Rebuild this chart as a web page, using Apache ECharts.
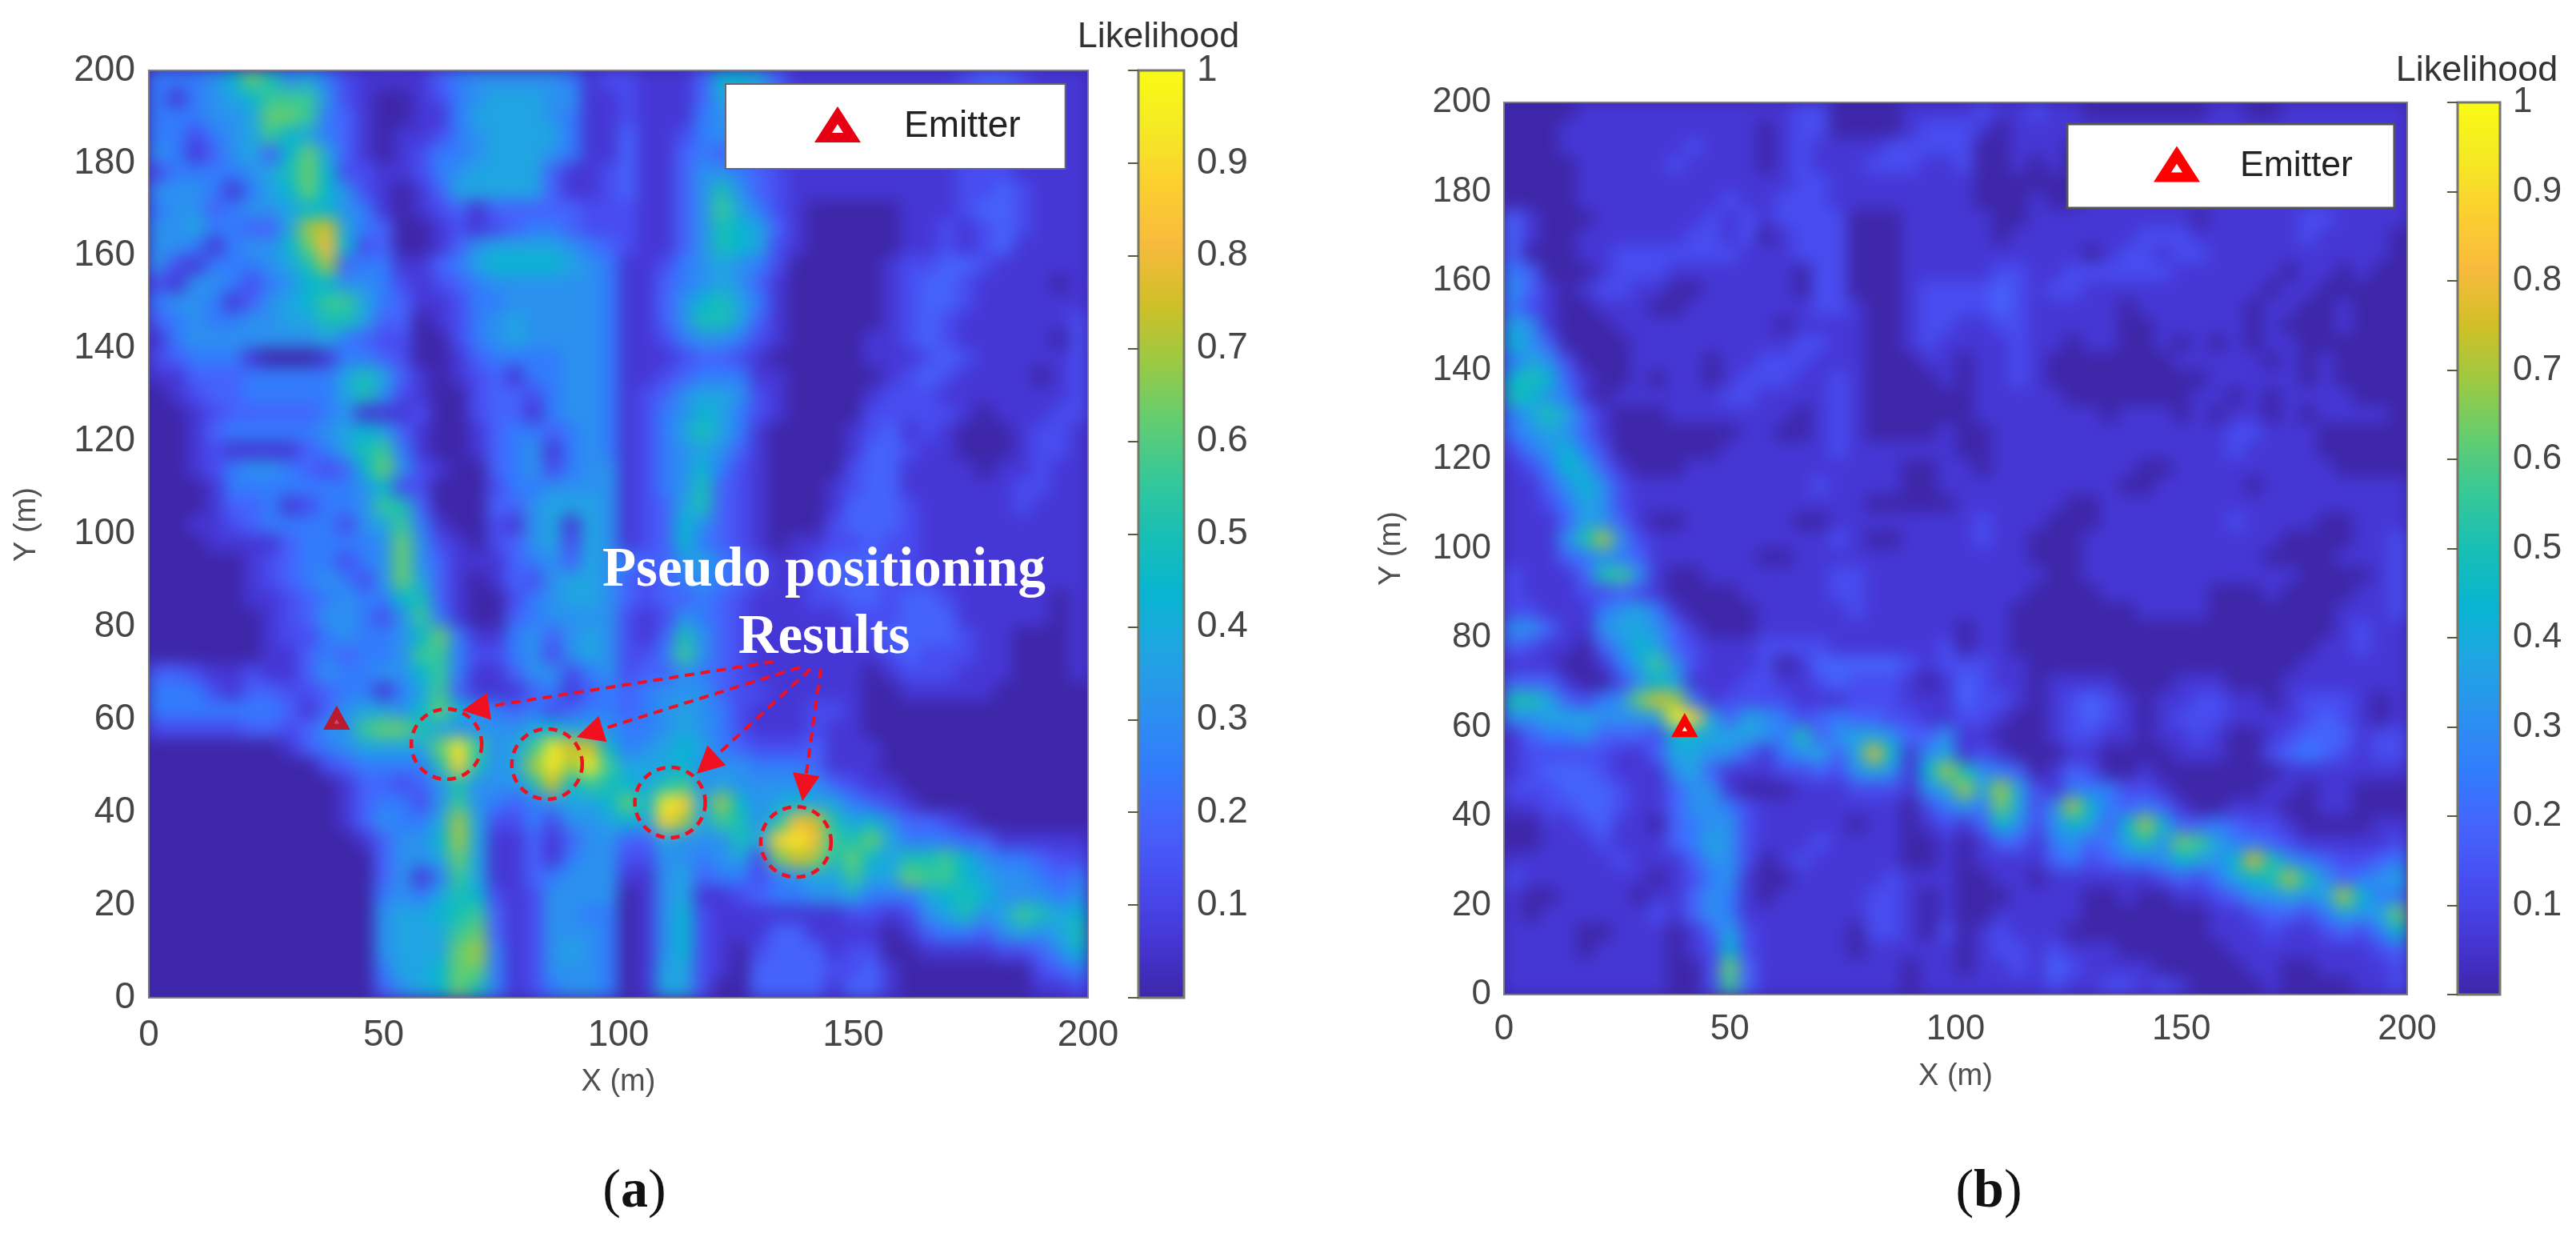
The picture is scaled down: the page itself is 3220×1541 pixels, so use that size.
<!DOCTYPE html>
<html><head><meta charset="utf-8">
<style>
html,body{margin:0;padding:0;background:#fff}
#chart{width:3220px;height:1541px}
#chart canvas:first-child{background:#3E26A8;filter:blur(10px);clip-path:path('M186 88H1360V1247H186Z M1880 128H3009V1243H1880Z')}
</style>
<script src="https://cdn.jsdelivr.net/npm/echarts@6/dist/echarts.min.js"></script>
</head><body><div id="chart"></div>
<script>
// Likelihood, in 1/16 steps (hex digit), row 0 = top (Y 196-200), column 0 = X 0-4
const likelihoodA = [
"4445 7a85 6421 1113 4555 5541 2 2111 3776 3111 1111 1123 3211 1",
"4145 6799 9521 0012 4566 6551 1 2111 3665 3111 1111 1122 2111 1",
"4445 56aa 9431 0011 4666 6541 1 2111 4553 2111 1111 1122 2111 1",
"4424 5697 6431 0112 4566 6641 1 3112 4543 2111 1111 1122 2111 1",
"5413 5637 a631 0124 4566 6541 1 3113 4332 1111 1111 1122 2111 1",
"2444 4568 a722 1124 5666 6311 2 3113 5543 2111 1111 1122 2111 1",
"5554 1467 a752 1013 6666 6311 2 3113 5853 2111 1111 1122 3211 1",
"4553 4556 7754 1012 3133 3332 2 2113 5964 2100 0001 1123 3211 1",
"5564 4336 bc64 3001 2123 4432 2 2113 5876 3100 0001 1212 3211 1",
"5541 4557 ad72 3001 3566 6654 3 2113 5876 2100 0001 1212 3111 1",
"5214 4456 8b34 4113 4677 7765 4 1124 5654 2000 0012 2332 1111 1",
"2155 4245 7755 4212 3455 5555 4 1134 5653 1000 0012 3321 1110 1",
"4554 1356 7996 4311 2445 5555 4 1135 7864 1000 0012 3321 1111 1",
"3454 4556 6886 3301 2456 5555 4 1135 8863 1000 0012 3211 1111 2",
"1455 5555 5643 2200 2456 5555 4 1124 5542 1000 0112 3211 1110 2",
"2344 4100 0144 3200 1344 4455 4 1112 3321 0000 0111 2321 1111 2",
"1133 3444 4468 6310 1231 4455 4 1123 4441 1000 0012 3211 1101 2",
"0123 3444 4468 5210 0233 2455 4 1235 6652 1000 0122 2111 1111 2",
"0012 3333 3451 1120 0233 1455 4 1245 7642 1000 0222 2210 1112 2",
"0013 4444 4567 6310 0134 4345 4 1246 8641 0000 1231 2100 0122 1",
"0012 1111 3468 9410 0134 5145 4 1245 6531 0000 1332 1100 0122 1",
"0012 4554 3237 a521 0034 5245 5 1245 7421 0000 2331 1110 1121 1",
"0001 4444 4445 7220 0024 4555 5 1245 8321 0001 2331 1111 1221 1",
"0001 3341 2445 9830 0033 5666 5 1236 8321 0001 3332 1111 1211 1",
"0011 2344 4425 6941 0021 5616 5 1237 5321 0002 3332 1111 1111 1",
"0001 1113 4444 5a52 1023 5626 5 1237 4321 0112 2322 1111 1111 1",
"0000 0123 4424 5a53 1113 4536 5 4335 6432 1123 3322 1111 1111 1",
"0000 0123 4542 5a63 1013 2566 5 3234 5432 1123 3322 2111 1111 1",
"0000 0112 3454 4783 1002 4566 5 3233 4321 1122 3323 3211 1110 1",
"0000 0012 3554 2594 1003 4555 5 2125 4321 1111 2223 3311 1110 1",
"0000 0012 2454 457a 4114 5356 5 2138 5321 1111 1233 3321 1000 1",
"0000 0011 3434 4599 4224 5256 5 2249 5321 1111 1123 2221 1000 1",
"3321 1211 3544 5579 4113 5524 5 2335 4321 1111 1012 2211 1000 1",
"4442 1332 2344 1469 3111 3413 4 3455 5322 1111 1001 1111 0000 0",
"4444 4443 1356 657a 7543 4234 4 3456 5421 1122 1000 0000 0000 0",
"2222 2332 3559 aa86 5555 6766 5 4456 5421 1121 1000 0000 0000 0",
"0000 0001 3456 666a f956 9fcc 7 4567 6432 2231 1100 0000 0000 0",
"0000 0000 0234 4448 e856 bfbf 9 6667 5554 4431 1100 0000 0000 0",
"0000 0000 0013 3235 8555 8c79 8 7689 5655 5553 2110 0000 0000 0",
"0000 0000 0013 4425 9543 4566 7 a7fe 6b75 6766 4321 0000 0000 0",
"0000 0000 0013 5446 b622 4255 6 76eb 6985 8dc8 6753 3210 0000 0",
"0000 0000 0001 3557 b611 3135 5 3365 5586 efd9 8a64 4433 1111 1",
"0000 0000 0000 3556 a611 3145 5 2255 4562 acb8 a768 8975 4432 2",
"0000 0000 0000 3514 9611 3455 5 1156 3442 4566 966a 9976 5543 4",
"0000 0000 0000 4546 8721 2555 5 0156 1123 4455 6444 6787 5554 5",
"0000 0000 0000 5667 8931 2554 4 0157 2111 1111 2212 5685 6986 7",
"0000 0000 0000 5666 9a31 2555 4 0157 2111 3311 1101 3443 5656 8",
"0000 0000 0000 5666 ab41 2565 4 0157 2102 3331 2200 1111 2235 7",
"0000 0000 0000 4667 aa41 2555 4 0166 2103 3332 2310 0000 0023 4",
"0000 0000 0000 3567 a841 2455 4 0166 2003 3331 3310 0000 0011 2"
];
const likelihoodB = [
"0000 1111 1111 1111 2200 0011 1 1211 2110 0000 0011 0011 1111 1",
"0001 1111 1111 1101 2200 0012 2 2101 1111 1111 1111 1111 1111 1",
"0001 1111 1121 1101 2111 1222 2 2001 1101 1111 1111 1111 1111 1",
"0000 1111 1211 1101 2111 2221 1 2001 0101 1111 1111 1111 1111 1",
"0000 1111 1111 1111 2211 1111 1 1000 0001 1111 1111 1111 1111 1",
"0000 1111 1111 2112 2211 1111 1 1000 1001 1111 1111 1111 1111 1",
"3100 0111 1112 1212 2220 0011 1 1100 1111 1111 1011 1112 2111 1",
"3100 1111 1122 1201 2220 0011 1 1101 1111 1122 2111 1112 1111 0",
"3000 1122 2222 2111 2220 0011 1 1111 1110 1221 2211 1111 1111 0",
"4300 0122 2111 1111 0220 0011 1 1122 1122 2222 1111 1101 1010 0",
"5310 1221 1001 1111 0220 0012 2 2232 1221 1111 1111 1011 0000 0",
"4210 0111 0011 1111 1221 0012 2 2232 1111 1011 1111 0110 0100 0",
"6510 0011 1111 1110 1111 0012 2 1122 1111 1001 1111 0100 0100 0",
"7530 0001 1111 1111 2211 0012 1 1112 1101 1001 0101 0110 0000 0",
"4652 0001 1110 1122 2111 0001 1 0112 1000 0000 1111 1010 1000 0",
"7873 1001 0110 1222 1121 0000 1 0112 1000 0000 0011 1110 1000 0",
"8754 1011 1111 2211 1121 0000 0 0111 1100 0000 0110 1011 1100 0",
"4686 3100 0111 1111 0121 0000 0 0111 1111 0111 0101 1010 1111 0",
"4565 3100 0000 0110 0121 0000 1 0011 1111 1111 1112 2111 0000 0",
"2457 4200 0000 1111 1121 1111 1 0011 1111 1111 1112 1111 0000 0",
"1247 6310 0011 1111 1111 1100 1 1011 1111 1100 1111 1111 1000 0",
"1135 7521 1111 1111 1211 1100 1 1111 1111 1001 1111 0111 1111 1",
"1124 6521 1111 1111 1111 0000 0 1111 1100 1111 1111 1111 1111 1",
"1113 6531 0011 1111 0011 1111 1 1211 1000 1111 1112 1111 0011 1",
"1115 8b52 1111 1111 1121 0011 1 1211 0001 1111 1111 1100 0011 2",
"1113 4543 1111 1100 1111 1111 1 1111 0001 1111 1111 1000 0111 2",
"2111 3895 1001 1111 1122 1111 1 1111 1001 1111 1111 1110 0001 2",
"2111 2232 1000 0111 1122 1111 1 1111 0000 1111 1100 0100 0011 2",
"2211 1456 4100 0011 1112 1111 1 1110 0000 0011 1100 0000 0111 2",
"5531 1566 5310 0011 1111 1111 1 0110 0000 0000 0000 0000 0121 1",
"3211 0357 6321 1122 2211 1111 2 0110 0000 0000 0000 0000 1121 1",
"1110 0146 9521 1120 1333 3321 2 2211 0000 0000 0000 0001 1111 1",
"3331 0025 7611 1221 1232 2210 1 3211 0111 1000 1110 0011 1111 1",
"8863 245a cb41 2222 1112 2211 1 3221 0123 2101 1221 1012 2210 1",
"5566 6555 6fe6 3654 2343 3221 1 2210 0123 2101 2221 1112 3210 1",
"1344 5333 2776 6654 8356 6533 5 1100 0122 1101 1210 0123 3312 2",
"1222 2211 3665 5314 5636 c715 6 1210 0011 0000 1110 0234 3212 2",
"1233 3211 1563 1112 2325 6517 b 8543 0132 0010 0000 0011 1111 1",
"2223 3321 1355 1000 1112 2215 6 b6b6 2144 4221 0000 0110 1100 0",
"1122 3321 1355 4211 1111 1102 4 54a6 25b7 4343 1001 1100 1100 0",
"0011 2311 0345 5211 1110 1101 2 1375 2576 37b7 3343 2210 0001 1",
"0011 1211 1346 5211 1211 1100 1 0133 1453 4685 a964 4321 1111 2",
"1111 1121 1135 5201 2111 1100 1 0111 1342 3445 7657 c854 3223 4",
"2111 1111 0124 5100 1111 1211 1 0011 0111 1112 3246 78b8 5345 6",
"1001 1110 1135 4101 1111 2210 1 0001 1110 0100 1123 5565 6b74 4",
"1011 1111 2135 4111 1111 2210 1 0011 1110 0000 0011 2332 4656 a",
"1111 0011 1013 6211 1110 2210 2 0121 1100 0000 0011 1211 2324 7",
"1111 0111 1012 7211 1110 1111 1 0122 1211 1000 0001 1111 1112 3",
"1111 1111 1002 a311 1111 1101 1 0112 1321 1110 0000 1100 1111 2",
"1111 1111 1002 9311 1111 1101 1 1111 1211 2212 1000 0100 0011 2"
];
const xCells = Array.from({length:50},(_,i)=>String(2+4*i));
const yCells = xCells;
const parula = ['#3E26A8','#4537D5','#484CF0','#4563FC','#327CFC','#2B91EF','#20A5E2','#08B5D0','#18BFB5','#37C897','#64CD6F','#9DC942','#D1BF27','#F8BA3D','#FCCF30','#F5E924','#F9FB15'];
const emitter = [40,60];
const pseudoPositions = [[63.4,54.7],[84.8,50.4],[111,42.1],[137.8,33.6]];
const arrowFrom = [[133,72.5],[138.7,71.3],[140.9,70.9],[143.1,70.9]];
const arrowTo = [[69.6,62.4],[93.9,57.1],[118.8,50.3],[139.6,45.3]];
const xTicks = {min:0,max:200,interval:50};
const yTicks = {min:0,max:200,interval:20};

function cells(rows){
  const out=[];
  rows.forEach((r,i)=>{
    r.replace(/\s/g,'').split('').forEach((h,j)=>{
      out.push([j,49-i,parseInt(h,16)/16]);
    });
  });
  return out;
}
const SANS='"Liberation Sans"', SERIF='"Liberation Serif"';
const TICK='#454545', NAME='#505050', RED='#f01020';
const frame={show:true,borderColor:'#7a7a98',borderWidth:2,backgroundColor:'transparent',zlevel:1,z:5};
const cbFrame={show:true,borderColor:'#77776a',borderWidth:3,backgroundColor:'transparent',zlevel:1,z:5};

function valueAxis(idx,t,fs,margin,name,gap,rot,namePad){
  return {type:'value',gridIndex:idx,min:t.min,max:t.max,interval:t.interval,zlevel:1,
    axisLine:{show:false},axisTick:{show:false},splitLine:{show:false},
    axisLabel:{color:TICK,fontFamily:SANS,fontSize:fs,margin:margin,hideOverlap:false,showMinLabel:true,showMaxLabel:true},
    name:name,nameLocation:'middle',nameGap:gap,nameRotate:rot,
    nameTextStyle:{color:NAME,fontFamily:SANS,fontSize:38,padding:namePad||0}};
}
function cellAxis(idx,data){
  return {type:'category',gridIndex:idx,data:data,show:false,boundaryGap:true};
}
function cbY(idx,fs){
  return {type:'value',gridIndex:idx,position:'right',min:0,max:1,interval:0.1,zlevel:1,z:6,
    axisLine:{show:false},splitLine:{show:false},
    axisTick:{show:true,inside:true,length:13,lineStyle:{color:'#5a5a40',width:2}},
    axisLabel:{color:TICK,fontFamily:SANS,fontSize:fs,margin:16,formatter:v=>v===0?'':String(+v.toFixed(1))}};
}
const parenRich={p:{fontFamily:SERIF,fontSize:68,fontWeight:'normal',color:'#111'},l:{fontFamily:SERIF,fontSize:68,fontWeight:'bold',color:'#111'}};
const option={
  animation:false,
  title:[
    {text:'Pseudo positioning\nResults',left:1030,top:672,textAlign:'center',padding:0,zlevel:1,
      textStyle:{color:'#fff',fontFamily:SERIF,fontWeight:'bold',fontSize:69,lineHeight:84}},
    {text:'Likelihood',left:1448,top:24,textAlign:'center',padding:0,zlevel:1,
      textStyle:{color:'#333',fontFamily:SANS,fontWeight:'normal',fontSize:45}},
    {text:'Likelihood',left:3096,top:66,textAlign:'center',padding:0,zlevel:1,
      textStyle:{color:'#333',fontFamily:SANS,fontWeight:'normal',fontSize:45}},
    {text:'{p|(}{l|a}{p|)}',left:793,top:1456,textAlign:'center',padding:0,zlevel:1,textStyle:{rich:parenRich}},
    {text:'{p|(}{l|b}{p|)}',left:2486,top:1456,textAlign:'center',padding:0,zlevel:1,textStyle:{rich:parenRich}}
  ],
  grid:[
    Object.assign({left:186,top:88,width:1174,height:1159},frame),
    Object.assign({left:1880,top:128,width:1129,height:1115},frame),
    Object.assign({left:1423,top:88,width:57,height:1159},cbFrame),
    Object.assign({left:3072,top:128,width:53,height:1115},cbFrame)
  ],
  xAxis:[
    valueAxis(0,xTicks,46,24,'X (m)',87,0),
    cellAxis(0,xCells),
    valueAxis(1,xTicks,44,22,'X (m)',84,0),
    cellAxis(1,xCells),
    {type:'value',gridIndex:2,show:false,min:0,max:1},
    {type:'value',gridIndex:3,show:false,min:0,max:1}
  ],
  yAxis:[
    valueAxis(0,yTicks,46,17,'Y (m)',133,90,[0,0,0,24]),
    cellAxis(0,yCells),
    valueAxis(1,yTicks,44,16,'Y (m)',121,90),
    cellAxis(1,yCells),
    cbY(2,46),
    cbY(3,44)
  ],
  visualMap:[
    {type:'continuous',seriesIndex:0,dimension:2,min:0,max:1,calculable:false,hoverLink:false,text:null,
      left:1423,top:88,itemWidth:57,itemHeight:1159,padding:0,zlevel:1,z:4,showLabel:false,inRange:{color:parula}},
    {type:'continuous',seriesIndex:1,dimension:2,min:0,max:1,calculable:false,hoverLink:false,text:null,
      left:3072,top:128,itemWidth:53,itemHeight:1115,padding:0,zlevel:1,z:4,showLabel:false,inRange:{color:parula}}
  ],
  legend:[
    {data:['Emitter'],left:907,top:105,selectedMode:false,zlevel:1,z:20,
      padding:[30,56,30,116],backgroundColor:'#fff',borderColor:'#66667a',borderWidth:2,
      itemWidth:36,itemHeight:28,symbolKeepAspect:false,
      itemStyle:{color:'#fff',borderColor:'#e60012',borderWidth:12},
      textStyle:{color:'#222',fontFamily:SANS,fontSize:46,padding:[0,0,0,60]}},
    {data:['Emitter'],left:2584,top:155,selectedMode:false,zlevel:1,z:20,
      padding:[30,52,30,113],backgroundColor:'#fff',borderColor:'#555',borderWidth:3,
      itemWidth:36,itemHeight:28,symbolKeepAspect:false,
      itemStyle:{color:'#fff',borderColor:'#ff0000',borderWidth:12},
      textStyle:{color:'#222',fontFamily:SANS,fontSize:44.5,padding:[0,0,0,56]}}
  ],
  series:[
    {type:'heatmap',name:'Likelihood (a)',xAxisIndex:1,yAxisIndex:1,data:cells(likelihoodA),zlevel:0,progressive:0,itemStyle:{borderWidth:0},emphasis:{disabled:true}},
    {type:'heatmap',name:'Likelihood (b)',xAxisIndex:3,yAxisIndex:3,data:cells(likelihoodB),zlevel:0,progressive:0,itemStyle:{borderWidth:0},emphasis:{disabled:true}},
    {type:'scatter',name:'Emitter',xAxisIndex:0,yAxisIndex:0,zlevel:1,z:12,symbol:'triangle',symbolSize:[20,18],
      data:[emitter],itemStyle:{color:'#d84a58',borderColor:'#b81a30',borderWidth:8,opacity:1}},
    {type:'scatter',name:'Emitter',xAxisIndex:2,yAxisIndex:2,zlevel:1,z:12,symbol:'triangle',symbolSize:[20,18],
      data:[emitter],itemStyle:{color:'#fff',borderColor:'#ff0000',borderWidth:8,opacity:1}},
    {type:'scatter',name:'Pseudo positioning results',xAxisIndex:0,yAxisIndex:0,zlevel:1,z:13,symbol:'circle',symbolSize:88,
      data:pseudoPositions,itemStyle:{color:'rgba(0,0,0,0)',borderColor:RED,borderWidth:4.5,borderType:[11,8],opacity:1},
      markLine:{zlevel:1,z:14,silent:true,symbol:['none','triangle'],symbolSize:34,animation:false,label:{show:false},
        lineStyle:{color:RED,width:4,type:[12,8],opacity:1},emphasis:{disabled:true},
        data:arrowFrom.map((f,i)=>[{coord:f},{coord:arrowTo[i]}])}}
  ]
};
const chart=echarts.init(document.getElementById('chart'),null,{renderer:'canvas',width:3220,height:1541});
chart.setOption(option);
</script></body></html>
